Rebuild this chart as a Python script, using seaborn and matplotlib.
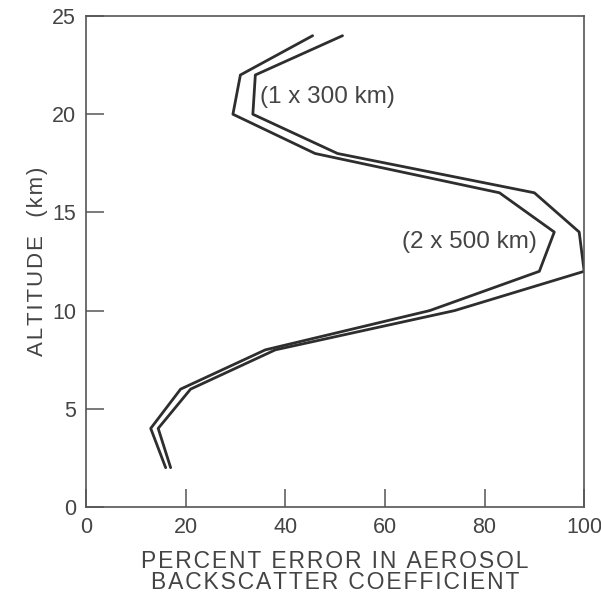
import pandas as pd
import matplotlib.pyplot as plt
import seaborn as sns

# altitude levels (km) and percent error for the two cases
altitude = [2, 4, 6, 8, 10, 12, 14, 16, 18, 20, 22, 24]
err_1x300 = [16, 13, 19, 36, 69, 91, 94, 83, 46, 29.5, 31, 45.5]
err_2x500 = [17, 14.5, 21, 38, 74, 100, 99, 90, 50.5, 33.5, 34, 51.5]

df = pd.concat([
    pd.DataFrame({"altitude": altitude, "error": err_1x300, "case": "1x300"}),
    pd.DataFrame({"altitude": altitude, "error": err_2x500, "case": "2x500"}),
])

sns.set_style("white")
plt.rcParams["font.family"] = ["Liberation Sans", "DejaVu Sans"]


def spaced(s, n=1):
    # widen letter spacing a little, like the typeset original
    return ("\u200a" * n).join(s)


fig = plt.figure(figsize=(6.01, 5.95), dpi=100)
ax = fig.add_axes([0.143, 0.148, 0.829, 0.825])

sns.lineplot(data=df, x="error", y="altitude", hue="case", orient="y",
             sort=False, palette=["#2e2e2e", "#2e2e2e"], linewidth=2.0,
             legend=False, ax=ax)

ax.set_xlim(0, 100)
ax.set_ylim(0, 25)
ax.set_xticks([0, 20, 40, 60, 80, 100])
ax.set_yticks([0, 5, 10, 15, 20, 25])
ax.tick_params(direction="in", length=13, width=1.1, colors="#555555",
               labelsize=15.5, labelcolor="#444444", pad=7,
               bottom=True, left=True)
for s in ax.spines.values():
    s.set_color("#555555")
    s.set_linewidth(1.2)

ax.text(35, 20.9, "(1 x 300 km)", fontsize=17.5, color="#444444", va="center")
ax.text(63.5, 13.5, "(2 x 500 km)", fontsize=17.5, color="#444444", va="center")

ax.set_xlabel(spaced("PERCENT ERROR IN AEROSOL") + "\n" + spaced("BACKSCATTER COEFFICIENT"),
              fontsize=16.5, color="#444444", linespacing=0.88, labelpad=9)
ax.set_ylabel(spaced("ALTITUDE") + "   " + spaced("(km)"), fontsize=16, color="#444444",
              labelpad=3)

fig.savefig("out.png", dpi=100)
